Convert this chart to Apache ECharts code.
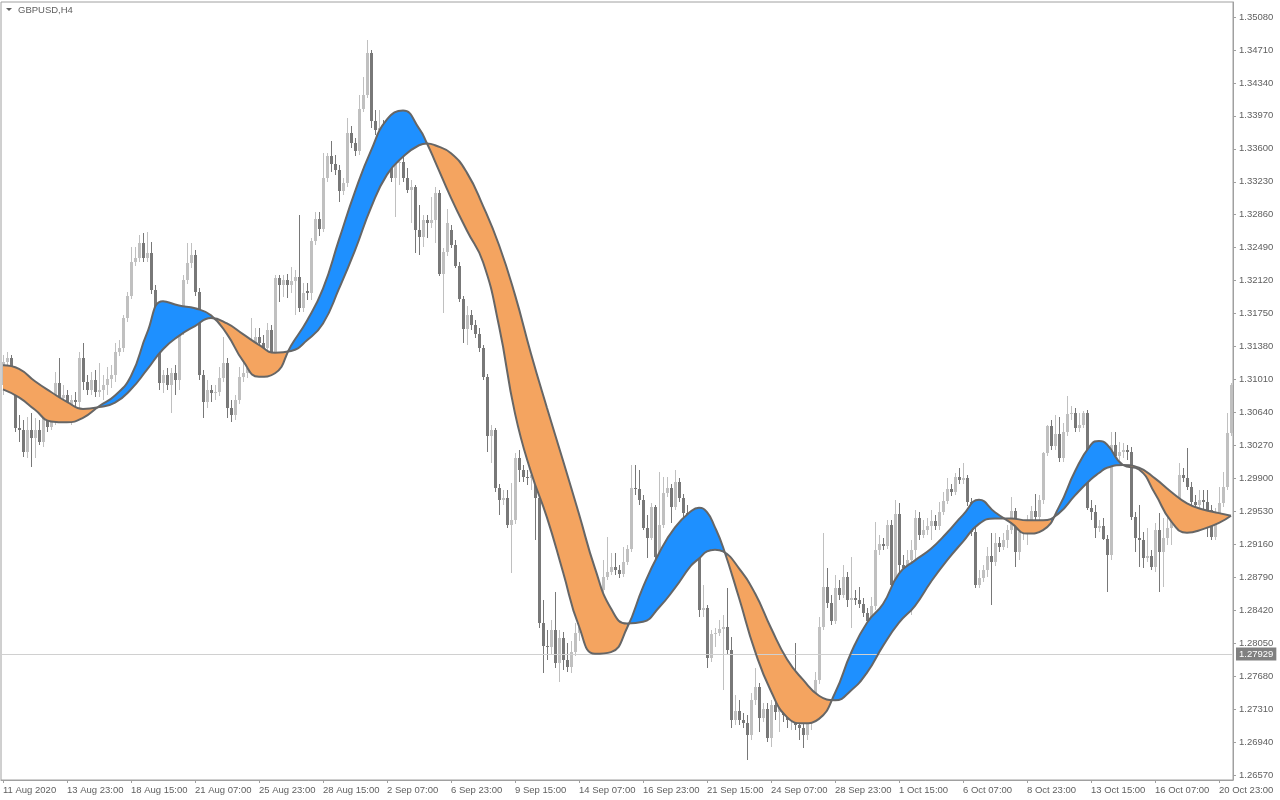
<!DOCTYPE html>
<html><head><meta charset="utf-8">
<script src="https://cdn.jsdelivr.net/npm/echarts@6/dist/echarts.min.js"></script>
<style>html,body{margin:0;padding:0;background:#fff}#c{width:1280px;height:800px}</style>
</head><body><div id="c"></div>
<script>
const symbolName = 'GBPUSD,H4';
const xTickLabels = ['11 Aug 2020','13 Aug 23:00','18 Aug 15:00','21 Aug 07:00','25 Aug 23:00','28 Aug 15:00','2 Sep 07:00','6 Sep 23:00','9 Sep 15:00','14 Sep 07:00','16 Sep 23:00','21 Sep 15:00','24 Sep 07:00','28 Sep 23:00','1 Oct 15:00','6 Oct 07:00','8 Oct 23:00','13 Oct 15:00','16 Oct 07:00','20 Oct 23:00'];
const yTickValues = [1.26570,1.26940,1.27310,1.27680,1.28050,1.28420,1.28790,1.29160,1.29530,1.29900,1.30270,1.30640,1.31010,1.31380,1.31750,1.32120,1.32490,1.32860,1.33230,1.33600,1.33970,1.34340,1.34710,1.35080];
const lastPrice = 1.27929;

const opens = [
1.3095,1.3121,1.3125,1.3103,1.3047,1.3044,1.3020,1.3044,1.3035,1.3044,
1.3031,1.3058,1.3048,1.3053,1.3097,1.3080,1.3084,1.3072,1.3078,1.3076,
1.3125,1.3098,1.3089,1.3100,1.3087,1.3089,1.3095,1.3102,1.3106,1.3132,
1.3136,1.3170,1.3195,1.3233,1.3237,1.3254,1.3237,1.3243,1.3201,1.3134,
1.3097,1.3106,1.3095,1.3108,1.3100,1.3157,1.3213,1.3232,1.3241,1.3199,
1.3106,1.3076,1.3089,1.3086,1.3087,1.3103,1.3120,1.3069,1.3061,1.3078,
1.3104,1.3108,1.3114,1.3140,1.3149,1.3142,1.3136,1.3157,1.3132,1.3215,
1.3207,1.3213,1.3207,1.3212,1.3216,1.3181,1.3200,1.3198,1.3256,1.3281,
1.3270,1.3327,1.3352,1.3343,1.3336,1.3313,1.3322,1.3378,1.3366,1.3357,
1.3405,1.3420,1.3468,1.3391,1.3381,1.3383,1.3375,1.3364,1.3327,1.3344,
1.3345,1.3327,1.3314,1.3317,1.3269,1.3261,1.3280,1.3277,1.3280,1.3310,
1.3220,1.3244,1.3269,1.3252,1.3228,1.3191,1.3158,1.3173,1.3162,1.3152,
1.3136,1.3104,1.3038,1.3044,1.2979,1.2966,1.2968,1.2938,1.2943,1.3013,
1.2999,1.2992,1.2990,1.2994,1.2968,1.2828,1.2802,1.2801,1.2820,1.2783,
1.2811,1.2786,1.2778,1.2795,1.2816,1.2823,1.2837,1.2848,1.2856,1.2853,
1.2865,1.2879,1.2885,1.2890,1.2887,1.2883,1.2896,1.2911,1.2979,1.2978,
1.2966,1.2934,1.2923,1.2958,1.2902,1.2938,1.2974,1.2979,1.2958,1.2986,
1.2968,1.2951,1.2943,1.2926,1.2901,1.2842,1.2844,1.2788,1.2815,1.2816,
1.2821,1.2823,1.2797,1.2719,1.2729,1.2719,1.2715,1.2702,1.2741,1.2756,
1.2721,1.2731,1.2699,1.2736,1.2728,1.2732,1.2724,1.2719,1.2728,1.2713,
1.2710,1.2702,1.2715,1.2741,1.2764,1.2823,1.2868,1.2850,1.2830,1.2867,
1.2859,1.2879,1.2853,1.2856,1.2853,1.2849,1.2839,1.2830,1.2847,1.2910,
1.2916,1.2914,1.2938,1.2870,1.2950,1.2893,1.2889,1.2898,1.2910,1.2945,
1.2926,1.2932,1.2936,1.2942,1.2936,1.2952,1.2965,1.2978,1.2975,1.2992,
1.2988,1.2990,1.2963,1.2930,1.2870,1.2878,1.2887,1.2903,1.2896,1.2917,
1.2913,1.2921,1.2932,1.2953,1.2907,1.2930,1.2934,1.2943,1.2953,1.2947,
1.2966,1.3018,1.3049,1.3026,1.3040,1.3013,1.3042,1.3062,1.3063,1.3047,
1.3050,1.3063,1.2957,1.2952,1.2934,1.2936,1.2922,1.2904,1.3027,1.3015,
1.3020,1.3022,1.3020,1.2947,1.2923,1.2921,1.2901,1.2903,1.2890,1.2932,
1.2907,1.2923,1.2934,1.2945,1.2966,1.2994,1.2990,1.2980,1.2963,1.2960,
1.2966,1.2963,1.2954,1.2924,1.2951,1.2962,1.2980,1.3041];
const closes = [
1.3121,1.3125,1.3103,1.3047,1.3044,1.3020,1.3044,1.3035,1.3044,1.3031,
1.3058,1.3048,1.3053,1.3097,1.3080,1.3084,1.3072,1.3078,1.3076,1.3125,
1.3098,1.3089,1.3100,1.3087,1.3089,1.3095,1.3102,1.3106,1.3132,1.3136,
1.3170,1.3195,1.3233,1.3237,1.3254,1.3237,1.3243,1.3201,1.3134,1.3097,
1.3106,1.3095,1.3108,1.3100,1.3157,1.3213,1.3232,1.3241,1.3199,1.3106,
1.3076,1.3089,1.3086,1.3087,1.3103,1.3120,1.3069,1.3061,1.3078,1.3104,
1.3108,1.3114,1.3140,1.3149,1.3142,1.3136,1.3157,1.3132,1.3215,1.3207,
1.3213,1.3207,1.3212,1.3216,1.3181,1.3198,1.3198,1.3256,1.3281,1.3270,
1.3327,1.3352,1.3343,1.3336,1.3313,1.3322,1.3378,1.3366,1.3357,1.3405,
1.3420,1.3468,1.3391,1.3381,1.3383,1.3375,1.3364,1.3327,1.3344,1.3345,
1.3327,1.3314,1.3317,1.3269,1.3261,1.3280,1.3277,1.3280,1.3310,1.3220,
1.3244,1.3277,1.3252,1.3228,1.3191,1.3158,1.3173,1.3162,1.3152,1.3136,
1.3104,1.3038,1.3044,1.2979,1.2966,1.2968,1.2938,1.2943,1.3013,1.2999,
1.2992,1.2990,1.2994,1.2968,1.2828,1.2802,1.2801,1.2820,1.2783,1.2811,
1.2786,1.2778,1.2795,1.2816,1.2823,1.2837,1.2848,1.2856,1.2853,1.2865,
1.2879,1.2885,1.2890,1.2887,1.2883,1.2896,1.2911,1.2979,1.2978,1.2966,
1.2934,1.2923,1.2958,1.2902,1.2938,1.2974,1.2979,1.2958,1.2986,1.2968,
1.2951,1.2943,1.2926,1.2901,1.2842,1.2844,1.2788,1.2815,1.2816,1.2821,
1.2823,1.2797,1.2719,1.2729,1.2719,1.2715,1.2702,1.2741,1.2756,1.2721,
1.2731,1.2699,1.2736,1.2728,1.2732,1.2724,1.2719,1.2728,1.2713,1.2710,
1.2702,1.2715,1.2741,1.2764,1.2823,1.2868,1.2850,1.2830,1.2867,1.2859,
1.2879,1.2853,1.2856,1.2853,1.2849,1.2839,1.2830,1.2847,1.2910,1.2916,
1.2914,1.2938,1.2870,1.2950,1.2893,1.2889,1.2898,1.2910,1.2945,1.2926,
1.2932,1.2936,1.2942,1.2936,1.2952,1.2965,1.2978,1.2975,1.2992,1.2988,
1.2990,1.2963,1.2930,1.2870,1.2878,1.2887,1.2903,1.2896,1.2917,1.2913,
1.2921,1.2932,1.2953,1.2907,1.2930,1.2934,1.2943,1.2953,1.2947,1.2966,
1.3018,1.3049,1.3026,1.3040,1.3013,1.3042,1.3062,1.3063,1.3047,1.3050,
1.3063,1.2957,1.2952,1.2934,1.2936,1.2922,1.2904,1.3027,1.3015,1.3020,
1.3022,1.3020,1.2947,1.2923,1.2921,1.2901,1.2903,1.2890,1.2932,1.2907,
1.2923,1.2934,1.2945,1.2966,1.2994,1.2990,1.2980,1.2963,1.2960,1.2966,
1.2963,1.2954,1.2924,1.2951,1.2962,1.2980,1.3041,1.3095];
const highs = [
1.3128,1.3132,1.3128,1.3109,1.3061,1.3056,1.3059,1.3063,1.3058,1.3056,
1.3064,1.3067,1.3072,1.3109,1.3125,1.3095,1.3089,1.3084,1.3087,1.3132,
1.3142,1.3106,1.3109,1.3112,1.3120,1.3106,1.3115,1.3117,1.3142,1.3145,
1.3173,1.3199,1.3250,1.3250,1.3263,1.3265,1.3267,1.3255,1.3207,1.3140,
1.3112,1.3114,1.3114,1.3117,1.3162,1.3218,1.3254,1.3254,1.3246,1.3204,
1.3112,1.3100,1.3095,1.3095,1.3115,1.3149,1.3125,1.3078,1.3084,1.3115,
1.3121,1.3123,1.3170,1.3159,1.3159,1.3151,1.3164,1.3162,1.3218,1.3218,
1.3218,1.3220,1.3227,1.3224,1.3286,1.3209,1.3209,1.3260,1.3289,1.3289,
1.3355,1.3355,1.3369,1.3353,1.3342,1.3327,1.3395,1.3386,1.3372,1.3420,
1.3441,1.3482,1.3471,1.3404,1.3404,1.3392,1.3383,1.3370,1.3359,1.3359,
1.3353,1.3338,1.3325,1.3319,1.3297,1.3286,1.3286,1.3306,1.3317,1.3314,
1.3249,1.3292,1.3274,1.3258,1.3233,1.3195,1.3183,1.3179,1.3168,1.3159,
1.3140,1.3107,1.3050,1.3047,1.2984,1.2977,1.2977,1.2985,1.3018,1.3022,
1.3005,1.2999,1.3002,1.2999,1.2971,1.2853,1.2820,1.2831,1.2862,1.2820,
1.2817,1.2805,1.2808,1.2828,1.2837,1.2848,1.2859,1.2865,1.2867,1.2870,
1.2898,1.2924,1.2906,1.2906,1.2893,1.2913,1.2915,1.3005,1.3005,1.2999,
1.2971,1.2949,1.2962,1.2960,1.2997,1.2992,1.2992,1.2984,1.2999,1.2990,
1.2972,1.2960,1.2952,1.2932,1.2910,1.2870,1.2848,1.2820,1.2822,1.2831,
1.2837,1.2867,1.2812,1.2747,1.2741,1.2727,1.2724,1.2749,1.2777,1.2760,
1.2738,1.2738,1.2741,1.2741,1.2741,1.2739,1.2736,1.2736,1.2805,1.2724,
1.2719,1.2721,1.2747,1.2773,1.2834,1.2929,1.2889,1.2859,1.2882,1.2876,
1.2893,1.2885,1.2902,1.2865,1.2868,1.2856,1.2844,1.2857,1.2941,1.2926,
1.2923,1.2943,1.2943,1.2966,1.2962,1.2904,1.2910,1.2921,1.2954,1.2952,
1.2943,1.2945,1.2954,1.2949,1.2963,1.2975,1.2990,1.2984,1.2996,1.3002,
1.3007,1.2994,1.2968,1.2934,1.2887,1.2893,1.2913,1.2929,1.2929,1.2924,
1.2929,1.2938,1.2969,1.2957,1.2934,1.2943,1.2949,1.2959,1.2972,1.2971,
1.3020,1.3050,1.3056,1.3061,1.3059,1.3052,1.3082,1.3071,1.3069,1.3063,
1.3066,1.3067,1.2966,1.2960,1.2943,1.2945,1.2926,1.3042,1.3042,1.3031,
1.3030,1.3027,1.3025,1.2952,1.2960,1.2930,1.2934,1.2910,1.2940,1.2951,
1.2945,1.2947,1.2954,1.2971,1.3007,1.3002,1.3024,1.2986,1.2971,1.2977,
1.2977,1.2977,1.2960,1.2957,1.2980,1.2997,1.3063,1.3097];
const lows = [
1.3084,1.3112,1.3098,1.3042,1.3031,1.3014,1.3013,1.3003,1.3013,1.3027,
1.3025,1.3042,1.3044,1.3050,1.3072,1.3067,1.3052,1.3050,1.3061,1.3067,
1.3089,1.3084,1.3084,1.3081,1.3081,1.3078,1.3084,1.3091,1.3098,1.3127,
1.3132,1.3166,1.3191,1.3228,1.3233,1.3233,1.3233,1.3197,1.3128,1.3089,
1.3086,1.3089,1.3063,1.3084,1.3089,1.3151,1.3208,1.3226,1.3195,1.3100,
1.3058,1.3069,1.3076,1.3078,1.3082,1.3098,1.3058,1.3053,1.3056,1.3073,
1.3098,1.3103,1.3109,1.3134,1.3134,1.3132,1.3132,1.3128,1.3127,1.3188,
1.3194,1.3192,1.3198,1.3173,1.3177,1.3177,1.3190,1.3190,1.3252,1.3262,
1.3267,1.3323,1.3334,1.3331,1.3300,1.3308,1.3317,1.3361,1.3352,1.3353,
1.3401,1.3417,1.3383,1.3375,1.3370,1.3359,1.3342,1.3323,1.3283,1.3319,
1.3323,1.3310,1.3277,1.3243,1.3241,1.3250,1.3260,1.3271,1.3254,1.3217,
1.3176,1.3240,1.3249,1.3226,1.3188,1.3142,1.3140,1.3157,1.3148,1.3132,
1.3100,1.3020,1.3007,1.2975,1.2949,1.2960,1.2934,1.2884,1.2939,1.2986,
1.2986,1.2983,1.2977,1.2921,1.2822,1.2771,1.2786,1.2792,1.2777,1.2761,
1.2775,1.2773,1.2771,1.2791,1.2808,1.2817,1.2831,1.2840,1.2847,1.2848,
1.2861,1.2876,1.2882,1.2882,1.2878,1.2879,1.2893,1.2907,1.2971,1.2960,
1.2932,1.2901,1.2921,1.2887,1.2898,1.2934,1.2969,1.2940,1.2954,1.2963,
1.2947,1.2934,1.2921,1.2896,1.2834,1.2834,1.2777,1.2784,1.2801,1.2813,
1.2752,1.2792,1.2710,1.2713,1.2713,1.2710,1.2674,1.2696,1.2736,1.2705,
1.2716,1.2694,1.2688,1.2719,1.2705,1.2716,1.2710,1.2708,1.2708,1.2696,
1.2687,1.2696,1.2708,1.2736,1.2759,1.2820,1.2844,1.2825,1.2826,1.2853,
1.2856,1.2846,1.2822,1.2848,1.2844,1.2834,1.2825,1.2826,1.2842,1.2904,
1.2910,1.2911,1.2865,1.2867,1.2884,1.2882,1.2865,1.2837,1.2898,1.2921,
1.2923,1.2926,1.2921,1.2932,1.2932,1.2949,1.2961,1.2970,1.2971,1.2984,
1.2984,1.2959,1.2925,1.2867,1.2867,1.2874,1.2879,1.2848,1.2892,1.2907,
1.2910,1.2912,1.2928,1.2890,1.2898,1.2921,1.2915,1.2939,1.2943,1.2943,
1.2961,1.3015,1.3022,1.3022,1.3008,1.3008,1.3038,1.3056,1.3042,1.3042,
1.3047,1.2954,1.2943,1.2923,1.2930,1.2921,1.2862,1.2898,1.3011,1.3008,
1.3013,1.3011,1.2943,1.2907,1.2890,1.2889,1.2896,1.2887,1.2885,1.2862,
1.2868,1.2915,1.2915,1.2938,1.2960,1.2986,1.2977,1.2959,1.2952,1.2949,
1.2952,1.2924,1.2921,1.2921,1.2945,1.2958,1.2977,1.3038];

// indicator lines, read about every 4th bar (plus a few turning points)
const maIndex = [0,4,8,12,16,20,24,28,32,36,40,44,48,52,56,60,64,68,72,76,80,84,88,92,96,100,104,106,108,112,116,120,124,128,132,136,140,144,148,152,156,160,164,168,172,174,176,178,180,184,188,192,196,200,204,208,212,216,220,224,228,232,236,240,244,248,252,256,260,264,268,272,274,276,280,284,288,292,296,300,304,307];
const fastLine = [1.3090,1.3081,1.3067,1.3054,1.3053,1.3058,1.3071,1.3083,1.3105,1.3153,1.3189,1.3184,1.3181,1.3173,1.3152,1.3122,1.3104,1.3108,1.3139,1.3167,1.3203,1.3258,1.3312,1.3358,1.3393,1.3403,1.3383,1.3366,1.3346,1.3305,1.3268,1.3233,1.3161,1.3063,1.2997,1.2946,1.2885,1.2824,1.2793,1.2795,1.2822,1.2868,1.2906,1.2935,1.2953,1.2957,1.2952,1.2935,1.2913,1.2856,1.2796,1.2751,1.2722,1.2715,1.2720,1.2749,1.2794,1.2828,1.2849,1.2883,1.2898,1.2911,1.2929,1.2949,1.2966,1.2952,1.2940,1.2928,1.2932,1.2958,1.2998,1.3028,1.3032,1.3028,1.3005,1.3000,1.2973,1.2942,1.2929,1.2933,1.2940,1.2948];
const slowLine = [1.3117,1.3113,1.3099,1.3087,1.3076,1.3068,1.3070,1.3075,1.3090,1.3112,1.3135,1.3150,1.3161,1.3170,1.3164,1.3152,1.3140,1.3131,1.3133,1.3145,1.3164,1.3203,1.3246,1.3294,1.3331,1.3351,1.3364,1.3366,1.3364,1.3355,1.3333,1.3296,1.3252,1.3196,1.3130,1.3069,1.3010,1.2950,1.2889,1.2844,1.2827,1.2829,1.2845,1.2867,1.2892,1.2900,1.2908,1.2910,1.2908,1.2889,1.2861,1.2822,1.2787,1.2764,1.2746,1.2741,1.2752,1.2772,1.2802,1.2828,1.2847,1.2874,1.2898,1.2919,1.2939,1.2945,1.2945,1.2943,1.2943,1.2951,1.2971,1.2989,1.2996,1.3002,1.3005,1.3002,1.2990,1.2975,1.2962,1.2955,1.2951,1.2948];

const BLUE = '#1e90ff', ORANGE = '#f4a460', BULL = '#c0c0c0', BEAR = '#787878', OUTLINE = '#666666';
const FONT = 'Liberation Sans', FS = 9.5, TXT = '#606060', AXIS = '#a0a0a0';
const SMOOTH = 0.5;
const categories = opens.map((_, i) => i);
const candleData = opens.map((o, i) => [i, o, closes[i], lows[i], highs[i]]);
const diff = fastLine.map((a, k) => a - slowLine[k]);

// colour pieces along x: blue where the fast line is above the slow line, orange otherwise
const sgn = d => (d > 1e-9 ? 1 : (d < -1e-9 ? -1 : 0));
const pieces = [];
let start = null, prevK = null;
for (let k = 0; k < diff.length; k++) {
  const s = sgn(diff[k]);
  if (s === 0) continue;
  if (prevK !== null && s !== sgn(diff[prevK])) {
    let xc;
    if (k === prevK + 1) {
      const d0 = diff[prevK], d1 = diff[k];
      xc = maIndex[prevK] + (maIndex[k] - maIndex[prevK]) * d0 / (d0 - d1);
    } else {
      xc = maIndex[prevK + 1];
    }
    const p = { lt: xc, color: sgn(diff[prevK]) > 0 ? BLUE : ORANGE };
    if (start !== null) p.gte = start;
    pieces.push(p);
    start = xc;
  }
  prevK = k;
}
pieces.push({ gte: start, color: sgn(diff[prevK]) > 0 ? BLUE : ORANGE });

function renderCandle(params, api) {
  const i = api.value(0), o = api.value(1), c = api.value(2), l = api.value(3), h = api.value(4);
  const pO = api.coord([i, o]), pC = api.coord([i, c]), pL = api.coord([i, l]), pH = api.coord([i, h]);
  const cx = Math.round(pO[0]);
  const color = c >= o ? BULL : BEAR;
  const top = Math.round(Math.min(pO[1], pC[1]));
  const bot = Math.max(top + 1, Math.round(Math.max(pO[1], pC[1])));
  const hy = Math.round(pH[1]), ly = Math.round(pL[1]);
  return { type: 'group', children: [
    { type: 'rect', shape: { x: cx, y: hy, width: 1, height: Math.max(1, ly - hy) }, style: { fill: color } },
    { type: 'rect', shape: { x: cx - 1, y: top, width: 3, height: bot - top }, style: { fill: color } }
  ]};
}

const chart = echarts.init(document.getElementById('c'), null, { renderer: 'canvas' });
chart.setOption({
  animation: false,
  backgroundColor: '#ffffff',
  textStyle: { fontFamily: FONT },
  title: { text: symbolName, left: 18, top: 5, padding: 0, textStyle: { fontFamily: FONT, fontSize: FS, fontWeight: 'normal', color: TXT } },
  graphic: [{ type: 'polygon', shape: { points: [[6, 8], [12, 8], [9, 11]] }, style: { fill: TXT } }],
  visualMap: { show: false, type: 'piecewise', dimension: 0, seriesIndex: 2, pieces: pieces },
  grid: { left: 1, top: 2, width: 1232, bottom: 20, show: true, borderColor: AXIS, borderWidth: 1, backgroundColor: 'transparent' },
  xAxis: {
    type: 'category', data: categories, boundaryGap: true,
    axisLine: { lineStyle: { color: AXIS } },
    axisTick: { show: true, alignWithLabel: true, interval: i => i % 16 === 0, length: 3, lineStyle: { color: AXIS } },
    axisLabel: { interval: i => i % 16 === 0, formatter: (v, i) => xTickLabels[i / 16] || '', align: 'left', margin: 5, fontFamily: FONT, fontSize: FS, color: TXT },
    splitLine: { show: false }
  },
  yAxis: {
    type: 'value', position: 'right', min: 1.265139, max: 1.352484,
    axisLine: { show: true, lineStyle: { color: AXIS } },
    axisTick: { show: true, customValues: yTickValues, length: 3, lineStyle: { color: AXIS } },
    axisLabel: { customValues: yTickValues, formatter: v => v.toFixed(5), margin: 6, fontFamily: FONT, fontSize: FS, color: TXT },
    splitLine: { show: false }
  },
  series: [
    {
      type: 'custom', renderItem: renderCandle, data: candleData, z: 2, silent: true,
      encode: { x: 0, y: [1, 2, 3, 4] }
    },
    {
      name: 'slow', type: 'line', data: maIndex.map((x, k) => [x, slowLine[k]]), symbol: 'none', z: 5,
      stack: 'band', stackStrategy: 'all', smooth: SMOOTH,
      lineStyle: { color: OUTLINE, width: 2 }, silent: true
    },
    {
      name: 'band', type: 'line', data: maIndex.map((x, k) => [x, diff[k]]), symbol: 'none', z: 3,
      stack: 'band', stackStrategy: 'all', smooth: SMOOTH,
      lineStyle: { width: 0, opacity: 0 }, areaStyle: { opacity: 1 }, silent: true
    },
    {
      name: 'fast', type: 'line', data: maIndex.map((x, k) => [x, fastLine[k]]), symbol: 'none', z: 5, smooth: SMOOTH,
      lineStyle: { color: OUTLINE, width: 2 }, silent: true,
      markLine: {
        silent: true, symbol: 'none', precision: 5,
        data: [{ yAxis: lastPrice }],
        lineStyle: { color: '#d0d0d0', width: 1, type: 'solid' },
        label: { position: 'end', distance: 3, formatter: () => lastPrice.toFixed(5), backgroundColor: '#808080', color: '#ffffff', padding: [2, 3, 1, 3], fontFamily: FONT, fontSize: FS }
      }
    }
  ]
});
</script></body></html>
